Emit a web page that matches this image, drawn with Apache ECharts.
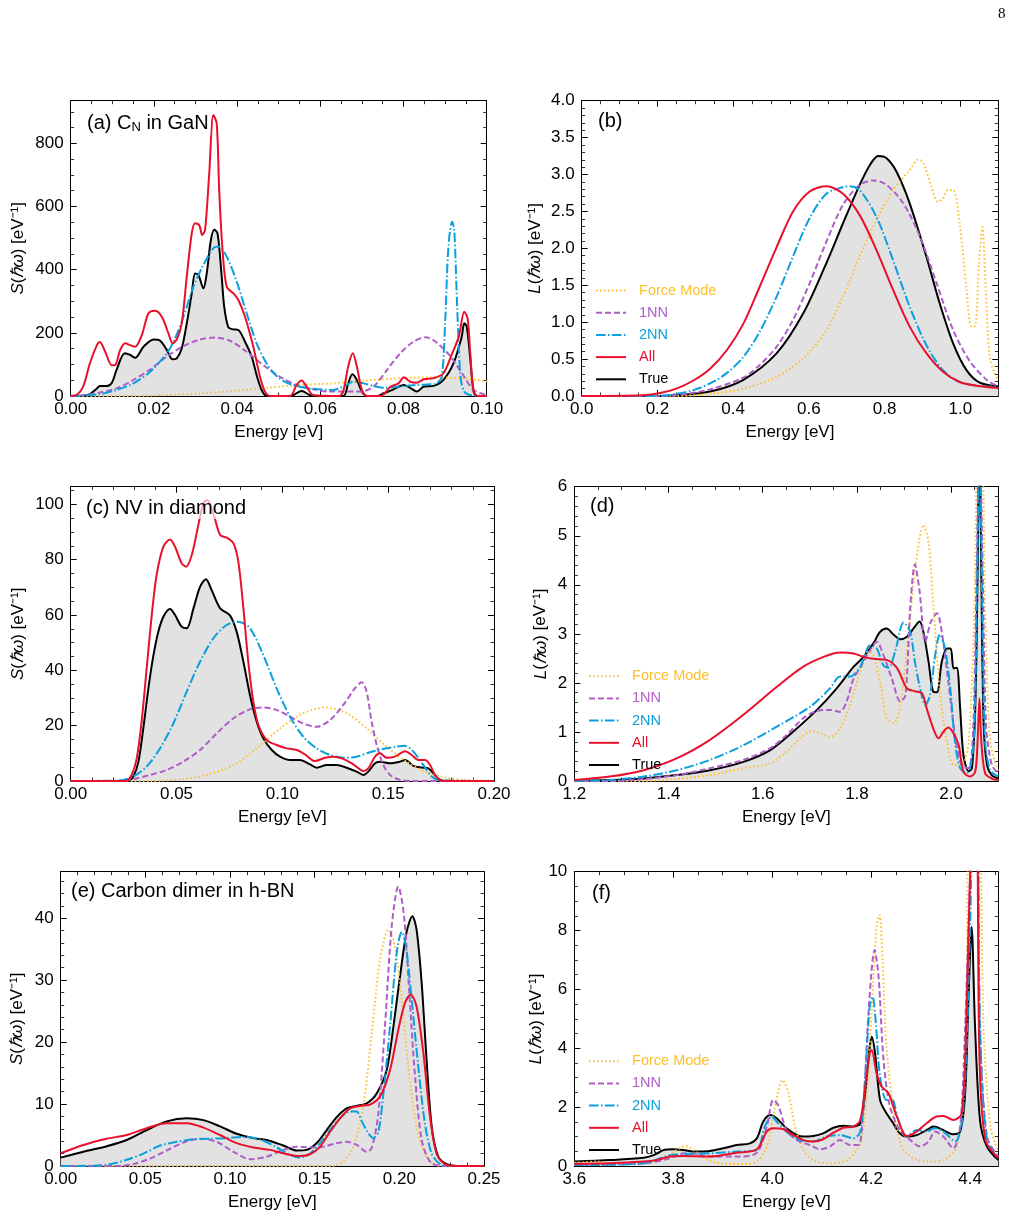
<!DOCTYPE html>
<html>
<head>
<meta charset="utf-8">
<script src="https://cdn.jsdelivr.net/npm/echarts@6/dist/echarts.min.js"></script>
<style>
  html, body { margin: 0; padding: 0; background: #fff; }
  #chart { width: 1016px; height: 1220px; }
</style>
</head>
<body>
<div id="chart"></div>
<script>
// ---- data: [energy, value] ----
// (a) C_N in GaN, S(hw)
const aTrue = [[0,0],[0.003,0],[0.0045,5],[0.0063,24],[0.007,32],[0.0087,32],[0.0099,42],[0.011,82],[0.013,135],[0.0143,130],[0.0155,121],[0.0175,156],[0.0199,179],[0.0215,175],[0.0231,146],[0.0245,116],[0.0255,119],[0.0267,151],[0.0279,230],[0.0291,325],[0.0299,388],[0.0307,383],[0.0319,341],[0.0327,388],[0.0337,494],[0.0345,526],[0.0353,515],[0.0363,378],[0.0369,283],[0.0379,217],[0.0391,211],[0.0403,209],[0.0419,172],[0.0435,125],[0.0447,66],[0.0459,19],[0.0471,0],[0.0525,0],[0.0535,3],[0.0555,16],[0.0575,3],[0.0587,0],[0.0655,0],[0.0667,40],[0.0677,69],[0.0688,51],[0.07,14],[0.0712,0],[0.0736,0],[0.0752,8],[0.0776,21],[0.08,35],[0.0816,26],[0.0832,14],[0.0849,30],[0.0872,32],[0.0896,51],[0.092,103],[0.094,188],[0.0946,230],[0.0952,220],[0.096,125],[0.0968,19],[0.0976,0],[0.1,0]];
const aAll = [[0,0],[0.0014,3],[0.003,30],[0.0046,103],[0.0063,161],[0.007,171],[0.0083,140],[0.0099,97],[0.0107,98],[0.0119,146],[0.0131,167],[0.0143,161],[0.0155,156],[0.0171,193],[0.0187,262],[0.0203,270],[0.0219,251],[0.0235,198],[0.0245,167],[0.0255,179],[0.0267,230],[0.0279,378],[0.0291,515],[0.0299,547],[0.0309,541],[0.0316,510],[0.0323,526],[0.0333,705],[0.0343,890],[0.0351,863],[0.0357,652],[0.0365,462],[0.0375,346],[0.0391,325],[0.0403,304],[0.0419,251],[0.0439,156],[0.0455,61],[0.0467,14],[0.0479,0],[0.0527,0],[0.0543,35],[0.0555,49],[0.0567,30],[0.0583,3],[0.0645,0],[0.0655,14],[0.0667,93],[0.0678,135],[0.0688,93],[0.07,19],[0.0712,0],[0.0745,0],[0.0769,30],[0.0788,40],[0.0801,59],[0.0816,45],[0.0832,42],[0.0849,53],[0.0872,56],[0.0896,72],[0.0917,135],[0.0933,188],[0.0946,267],[0.0954,246],[0.096,146],[0.0968,19],[0.0978,0],[0.1,0]];
const a2NN = [[0,0],[0.003,2],[0.007,6],[0.011,19],[0.0151,40],[0.0191,77],[0.0231,135],[0.0251,183],[0.0271,251],[0.0295,346],[0.0319,415],[0.0343,468],[0.0355,473],[0.0375,441],[0.0399,362],[0.0423,262],[0.0447,167],[0.0471,103],[0.0495,63],[0.0527,38],[0.0559,27],[0.0591,22],[0.0631,19],[0.0663,35],[0.068,45],[0.0704,40],[0.0728,32],[0.0752,26],[0.079,30],[0.0832,35],[0.0864,37],[0.088,40],[0.0892,61],[0.09,230],[0.0908,473],[0.0917,552],[0.0922,526],[0.0929,283],[0.0937,61],[0.0946,14],[0.096,3],[0.1,0]];
const a1NN = [[0,0],[0.003,3],[0.007,11],[0.011,24],[0.0151,51],[0.0191,84],[0.0231,125],[0.0271,158],[0.0311,179],[0.0347,185],[0.0383,175],[0.0423,140],[0.0463,98],[0.0503,61],[0.0543,35],[0.0583,21],[0.0623,14],[0.0663,14],[0.0696,14],[0.0728,30],[0.076,82],[0.0792,135],[0.0824,172],[0.0853,186],[0.088,169],[0.0913,125],[0.0946,61],[0.0968,19],[0.0992,6],[0.1,3]];
const aForce = [[0,0],[0.015,0],[0.023,3],[0.031,8],[0.039,16],[0.047,26],[0.055,35],[0.063,40],[0.071,49],[0.079,56],[0.087,59],[0.095,55],[0.1,47]];

// (b) C_N in GaN, L(hw)
const bTrue = [[0,0],[0.2,0],[0.25,0.01],[0.339,0.06],[0.427,0.22],[0.515,0.58],[0.585,1.12],[0.646,1.8],[0.69,2.34],[0.734,2.86],[0.761,3.13],[0.783,3.25],[0.805,3.22],[0.831,3.04],[0.866,2.61],[0.91,1.89],[0.945,1.26],[0.981,0.71],[1.016,0.35],[1.051,0.18],[1.1,0.13]];
const bAll = [[0,0],[0.163,0.01],[0.207,0.04],[0.25,0.1],[0.295,0.21],[0.339,0.37],[0.383,0.62],[0.427,0.98],[0.47,1.48],[0.515,2.02],[0.558,2.5],[0.602,2.77],[0.646,2.84],[0.69,2.74],[0.734,2.45],[0.778,1.98],[0.822,1.44],[0.866,0.94],[0.91,0.58],[0.954,0.33],[0.998,0.19],[1.042,0.14],[1.1,0.11]];
const b2NN = [[0,0],[0.2,0],[0.25,0.03],[0.295,0.08],[0.339,0.17],[0.383,0.31],[0.427,0.53],[0.47,0.87],[0.515,1.35],[0.558,1.89],[0.602,2.41],[0.646,2.74],[0.69,2.83],[0.708,2.84],[0.734,2.79],[0.778,2.43],[0.822,1.84],[0.866,1.21],[0.91,0.69],[0.954,0.35],[0.998,0.19],[1.042,0.14],[1.1,0.12]];
const b1NN = [[0,0],[0.207,0],[0.25,0.01],[0.339,0.09],[0.427,0.25],[0.47,0.42],[0.515,0.67],[0.558,1.03],[0.602,1.53],[0.646,2.09],[0.69,2.59],[0.734,2.86],[0.77,2.92],[0.805,2.86],[0.849,2.61],[0.893,2.16],[0.937,1.53],[0.981,0.89],[1.025,0.47],[1.069,0.22],[1.1,0.13]];
const bForce = [[0,0],[0.25,0],[0.339,0.03],[0.427,0.1],[0.515,0.26],[0.585,0.51],[0.646,0.89],[0.69,1.35],[0.734,1.89],[0.778,2.38],[0.822,2.79],[0.866,3.06],[0.888,3.2],[0.901,3.17],[0.923,2.84],[0.941,2.63],[0.954,2.68],[0.967,2.79],[0.981,2.79],[0.998,2.34],[1.016,1.44],[1.029,0.94],[1.04,0.96],[1.049,1.8],[1.058,2.29],[1.067,1.44],[1.077,0.53],[1.09,0.31],[1.1,0.22]];

// (c) NV in diamond, S(hw)
const cTrue = [[0,0],[0.025,0],[0.0272,0.1],[0.0296,1.6],[0.032,7],[0.0343,19],[0.0367,33.5],[0.0391,45.5],[0.0414,54],[0.0438,59.4],[0.0469,62.2],[0.0493,60],[0.0524,55.8],[0.0548,55.2],[0.058,62.4],[0.0611,70.2],[0.0639,72.9],[0.0666,69],[0.0706,62.4],[0.0753,59.8],[0.0784,54],[0.0816,43.1],[0.0847,31.1],[0.0879,21.4],[0.091,15.4],[0.095,11.2],[0.0989,8.8],[0.1036,7.6],[0.1083,7.6],[0.1131,6],[0.1162,4.8],[0.121,5.8],[0.1257,5.8],[0.1304,4.8],[0.1351,3.4],[0.1383,2.2],[0.1406,3.4],[0.1438,6.4],[0.1461,7],[0.1509,6.4],[0.1556,7],[0.158,7.6],[0.1619,5.5],[0.1658,4.9],[0.169,4.6],[0.1713,2.8],[0.1745,0.4],[0.1776,0],[0.2,0]];
const cAll = [[0,0],[0.025,0],[0.0265,0.1],[0.0288,2.2],[0.0312,8.2],[0.0335,21.4],[0.0359,40.7],[0.0383,60],[0.0406,74.5],[0.0438,84.7],[0.0469,87.3],[0.0493,84.7],[0.0524,78.7],[0.0545,77.5],[0.0572,81.7],[0.0603,92.5],[0.0627,100.4],[0.0646,101.6],[0.0674,96.7],[0.0706,88.9],[0.0737,88],[0.0769,85.9],[0.0792,79.3],[0.0816,62.4],[0.0839,43.1],[0.0863,28.7],[0.0887,20.2],[0.0926,14.8],[0.0973,13],[0.102,11.8],[0.1068,11.2],[0.1107,9.6],[0.1154,7.2],[0.1202,8.4],[0.1241,8.8],[0.1288,8],[0.1335,6],[0.1383,3.6],[0.1406,4.6],[0.1438,8.8],[0.1461,10],[0.1493,8.4],[0.1532,8.8],[0.158,10.8],[0.1611,9.4],[0.1643,7.6],[0.1674,7.6],[0.1698,5.8],[0.1721,2.2],[0.1753,0.1],[0.2,0]];
const c2NN = [[0,0],[0.0186,0.1],[0.0249,0.4],[0.0296,1.6],[0.0359,5.2],[0.0422,11.8],[0.0485,20.8],[0.0548,32.3],[0.0611,43.1],[0.0674,51.6],[0.0737,56.4],[0.0792,57.6],[0.0847,55.2],[0.091,45.5],[0.0973,33.5],[0.1036,23.3],[0.1099,16],[0.1162,11.8],[0.1225,9.4],[0.1288,8.4],[0.1351,8.8],[0.1414,10.4],[0.1477,11.6],[0.154,12.4],[0.158,12.7],[0.1619,10.6],[0.1666,5.8],[0.1706,1.6],[0.1745,0.2],[0.2,0]];
const c1NN = [[0,0],[0.0217,0],[0.0296,0.7],[0.0375,2.2],[0.0454,4],[0.0532,7],[0.0611,11.2],[0.069,17.2],[0.0769,22.7],[0.0847,25.9],[0.091,26.6],[0.0973,25.7],[0.1036,23.3],[0.1099,20.8],[0.1162,19.6],[0.1225,22],[0.1288,27.5],[0.1343,33.5],[0.1375,35.7],[0.1398,32.3],[0.1422,21.4],[0.1446,13],[0.1477,5.8],[0.1509,2.2],[0.1556,0.4],[0.1619,0],[0.2,0]];
const cForce = [[0,0],[0.0375,0],[0.0532,0.7],[0.0643,2.2],[0.0769,5.8],[0.0879,11.8],[0.0989,19],[0.1099,24.5],[0.1202,26.6],[0.1304,24.5],[0.1398,19],[0.1493,12.4],[0.1587,7],[0.1682,3.1],[0.1776,1.2],[0.1871,0.4],[0.2,0.1]];

// (d) NV in diamond, L(hw)
const dTrue = [[1.2,0.01],[1.276,0.02],[1.347,0.05],[1.417,0.12],[1.488,0.22],[1.559,0.39],[1.616,0.63],[1.665,1.01],[1.715,1.45],[1.757,1.89],[1.793,2.33],[1.814,2.53],[1.835,2.81],[1.849,3.04],[1.863,3.11],[1.878,2.98],[1.892,2.89],[1.906,2.94],[1.92,3.11],[1.933,3.25],[1.941,3.04],[1.952,2.43],[1.962,1.82],[1.97,1.81],[1.98,2.43],[1.991,2.7],[1.999,2.7],[2.005,2.3],[2.012,2.31],[2.019,1.48],[2.026,0.53],[2.037,0.2],[2.044,0.26],[2.051,1.48],[2.056,4.2],[2.06,7.5],[2.064,4.2],[2.069,1.14],[2.076,0.33],[2.086,0.12],[2.1,0.05]];
const dAll = [[1.2,0.02],[1.276,0.09],[1.347,0.22],[1.417,0.46],[1.488,0.84],[1.559,1.35],[1.63,1.92],[1.686,2.33],[1.729,2.53],[1.764,2.62],[1.793,2.6],[1.814,2.53],[1.835,2.49],[1.863,2.47],[1.885,2.3],[1.906,1.89],[1.923,1.83],[1.938,1.79],[1.948,1.48],[1.962,1.07],[1.973,0.87],[1.984,1.01],[1.994,1.09],[2.005,0.97],[2.016,0.73],[2.026,0.19],[2.04,0.09],[2.051,0.19],[2.056,0.8],[2.06,1.68],[2.064,0.8],[2.072,0.16],[2.086,0.05],[2.1,0.02]];
const d2NN = [[1.2,0],[1.276,0.02],[1.347,0.09],[1.417,0.22],[1.488,0.43],[1.559,0.73],[1.63,1.11],[1.7,1.51],[1.743,1.89],[1.764,2.13],[1.785,2.13],[1.807,2.33],[1.828,2.77],[1.842,2.7],[1.856,2.36],[1.867,2.31],[1.881,2.64],[1.899,3.23],[1.913,3.04],[1.923,2.43],[1.934,1.89],[1.945,1.55],[1.955,1.75],[1.966,2.57],[1.976,2.99],[1.987,2.7],[1.998,1.89],[2.008,0.8],[2.019,0.26],[2.033,0.16],[2.047,0.67],[2.054,3.5],[2.06,7],[2.066,3.5],[2.072,0.8],[2.083,0.22],[2.1,0.09]];
const d1NN = [[1.2,0],[1.276,0],[1.347,0.04],[1.417,0.12],[1.488,0.26],[1.559,0.43],[1.616,0.67],[1.651,0.94],[1.686,1.28],[1.715,1.43],[1.743,1.45],[1.764,1.41],[1.778,1.62],[1.793,2.09],[1.81,2.36],[1.828,2.67],[1.842,2.84],[1.856,2.57],[1.874,2.09],[1.892,1.62],[1.903,1.75],[1.913,3.52],[1.923,4.42],[1.933,3.86],[1.945,2.84],[1.957,3.25],[1.97,3.42],[1.98,3.04],[1.994,2.02],[2.008,0.94],[2.022,0.33],[2.037,0.26],[2.047,1.14],[2.054,4.2],[2.06,7],[2.067,4.2],[2.074,1.14],[2.086,0.33],[2.1,0.16]];
const dForce = [[1.2,0],[1.347,0],[1.417,0.04],[1.488,0.12],[1.559,0.26],[1.616,0.36],[1.651,0.6],[1.679,0.87],[1.704,1.02],[1.722,0.97],[1.743,0.9],[1.764,1.07],[1.785,1.55],[1.807,2.23],[1.824,2.64],[1.835,2.57],[1.849,2.02],[1.863,1.28],[1.878,1.18],[1.892,1.55],[1.91,3.04],[1.923,4.27],[1.941,5.22],[1.952,4.88],[1.962,3.59],[1.976,1.82],[1.991,0.8],[2.005,0.33],[2.022,0.33],[2.037,0.8],[2.049,3.52],[2.057,7],[2.065,7],[2.072,3.52],[2.083,0.8],[2.1,0.19]];

// (e) Carbon dimer in h-BN, S(hw)
const eTrue = [[0,1.35],[0.0134,2.3],[0.0272,3.2],[0.039,4.2],[0.0508,5.8],[0.0626,7.2],[0.0744,7.7],[0.0843,7.4],[0.0941,6.4],[0.1039,5.2],[0.1138,4.5],[0.1217,4.2],[0.1315,3.3],[0.1394,2.5],[0.1453,2.6],[0.1512,3.7],[0.1571,5.8],[0.163,7.9],[0.1689,9.3],[0.1748,9.7],[0.1807,10.1],[0.1866,11.7],[0.1925,15.5],[0.1965,22.5],[0.2004,30.6],[0.2043,37.8],[0.2077,40.3],[0.2102,38.1],[0.2132,29.5],[0.2161,17.1],[0.2191,6.4],[0.223,1.5],[0.228,0.3],[0.2358,0],[0.25,0]];
const eAll = [[0,2.05],[0.0134,3.4],[0.0272,4.4],[0.039,5],[0.0508,6.1],[0.0626,6.9],[0.0744,6.9],[0.0843,6.2],[0.0941,5],[0.1039,3.7],[0.1138,3],[0.1236,2.6],[0.1335,1.9],[0.1413,1.6],[0.1472,1.9],[0.1531,3.1],[0.159,5.5],[0.165,7.7],[0.1709,9.3],[0.1768,9.7],[0.1827,9.9],[0.1886,11.2],[0.1945,15.5],[0.1994,22],[0.2033,26.3],[0.2067,27.7],[0.2102,25.7],[0.2142,18.2],[0.2181,8],[0.222,2],[0.227,0.3],[0.2339,0],[0.25,0]];
const e2NN = [[0,0],[0.0193,0.05],[0.0291,0.3],[0.039,1],[0.0488,2],[0.0587,3.3],[0.0685,3.9],[0.0783,4.3],[0.0882,4.4],[0.098,4.5],[0.1079,4.7],[0.1177,4.3],[0.1276,3],[0.1354,1.8],[0.1413,1.35],[0.1472,2],[0.1531,3.7],[0.159,5.8],[0.165,7.7],[0.1709,8.8],[0.1748,8.8],[0.1778,7.2],[0.1817,5.3],[0.1846,4.5],[0.1876,5.5],[0.1906,11.7],[0.1945,22.5],[0.1984,34.3],[0.2014,37.8],[0.2039,35.4],[0.2073,26.8],[0.2112,16],[0.2151,6.9],[0.2191,2],[0.224,0.3],[0.2299,0],[0.25,0]];
const e1NN = [[0,0],[0.0331,0],[0.0429,0.3],[0.0528,1.2],[0.0626,2.5],[0.0724,3.8],[0.0823,4.4],[0.0921,3.9],[0.102,2.3],[0.1118,1.1],[0.1217,1.5],[0.1315,2.6],[0.1394,3.1],[0.1472,3],[0.1551,3.1],[0.163,3.7],[0.1689,3.9],[0.1748,3.4],[0.1807,2.3],[0.1837,2.9],[0.1876,8.5],[0.1915,22.5],[0.1955,38.7],[0.1994,45.1],[0.2028,40.3],[0.2059,27.9],[0.2093,14.4],[0.2132,4.2],[0.2181,0.7],[0.224,0],[0.25,0]];
const eForce = [[0,0],[0.16,0],[0.1669,0.7],[0.1728,3.1],[0.1787,9.6],[0.1837,21.4],[0.1886,33.3],[0.1935,38.1],[0.1974,35.4],[0.2014,26.8],[0.2053,16],[0.2102,6.4],[0.2151,2],[0.22,0.4],[0.226,0],[0.25,0]];

// (f) Carbon dimer in h-BN, L(hw)
const fTrue = [[3.6,0.15],[3.672,0.2],[3.74,0.28],[3.76,0.37],[3.78,0.54],[3.8,0.57],[3.82,0.54],[3.847,0.49],[3.874,0.51],[3.901,0.6],[3.928,0.71],[3.955,0.77],[3.969,0.94],[3.982,1.51],[3.996,1.73],[4.009,1.62],[4.029,1.28],[4.05,1.05],[4.063,1.0],[4.083,1.02],[4.103,1.11],[4.124,1.3],[4.144,1.37],[4.164,1.34],[4.178,1.45],[4.188,2.47],[4.197,4.05],[4.201,4.39],[4.208,3.83],[4.218,2.24],[4.231,1.79],[4.245,1.45],[4.258,1.11],[4.272,1.0],[4.292,1.05],[4.312,1.22],[4.326,1.34],[4.346,1.22],[4.366,1.08],[4.38,1.17],[4.39,2.47],[4.397,5.87],[4.403,8.13],[4.41,4.73],[4.42,1.56],[4.434,0.66],[4.457,0.2]];
const fAll = [[3.6,0.07],[3.672,0.09],[3.74,0.15],[3.766,0.2],[3.793,0.32],[3.82,0.34],[3.874,0.32],[3.928,0.45],[3.969,0.57],[3.989,1.17],[4.002,1.28],[4.023,1.25],[4.043,1.05],[4.063,0.88],[4.083,0.83],[4.103,0.91],[4.124,1.13],[4.144,1.3],[4.164,1.34],[4.178,1.56],[4.188,2.7],[4.197,3.83],[4.201,3.94],[4.211,3.15],[4.221,2.7],[4.235,2.47],[4.252,1.68],[4.272,1.02],[4.292,1.17],[4.312,1.45],[4.332,1.68],[4.346,1.7],[4.366,1.56],[4.383,1.79],[4.392,4.73],[4.399,9.3],[4.406,12],[4.413,12],[4.419,3.6],[4.431,0.88],[4.457,0.26]];
const f2NN = [[3.6,0.03],[3.74,0.09],[3.793,0.37],[3.82,0.41],[3.874,0.43],[3.928,0.49],[3.969,0.54],[3.985,1.34],[3.999,1.68],[4.012,1.45],[4.033,1.11],[4.056,0.88],[4.083,0.83],[4.11,1.0],[4.137,1.05],[4.164,0.94],[4.178,1.17],[4.188,3.04],[4.197,5.41],[4.203,5.75],[4.209,4.96],[4.218,3.04],[4.231,2.24],[4.241,2.3],[4.255,1.56],[4.272,1.0],[4.292,1.22],[4.312,1.17],[4.329,1.28],[4.346,1.17],[4.37,0.83],[4.383,1.45],[4.392,3.6],[4.4,8.13],[4.407,12],[4.414,12],[4.42,4.73],[4.434,0.88],[4.457,0.26]];
const f1NN = [[3.6,0.03],[3.74,0.09],[3.793,0.26],[3.82,0.43],[3.847,0.41],[3.874,0.32],[3.928,0.32],[3.969,0.45],[3.989,1.34],[4.002,2.24],[4.012,2.07],[4.029,1.22],[4.05,0.88],[4.076,0.71],[4.097,0.57],[4.117,0.66],[4.137,0.88],[4.157,0.71],[4.174,0.71],[4.184,1.9],[4.195,5.3],[4.207,7.34],[4.215,6.43],[4.225,3.6],[4.238,2.02],[4.258,1.22],[4.279,0.88],[4.299,0.66],[4.316,0.83],[4.329,1.17],[4.346,1.0],[4.366,0.6],[4.38,1.34],[4.39,4.73],[4.399,9.3],[4.406,12],[4.414,12],[4.42,4.73],[4.434,1.0],[4.457,0.32]];
const fForce = [[3.6,0.11],[3.645,0.15],[3.672,0.09],[3.74,0.09],[3.78,0.26],[3.807,0.54],[3.824,0.68],[3.841,0.54],[3.868,0.23],[3.895,0.09],[3.942,0.07],[3.969,0.15],[3.989,0.66],[4.006,2.02],[4.021,2.92],[4.033,2.47],[4.046,1.34],[4.063,0.54],[4.083,0.2],[4.117,0.09],[4.151,0.2],[4.178,0.77],[4.191,2.47],[4.201,5.3],[4.211,8.13],[4.217,8.53],[4.223,7.0],[4.231,4.05],[4.245,1.9],[4.262,0.66],[4.285,0.26],[4.318,0.15],[4.346,0.2],[4.373,0.66],[4.39,3.6],[4.4,12],[4.417,12],[4.427,4.73],[4.441,1.34],[4.457,0.49]];

const seriesNames = ['Force Mode', '1NN', '2NN', 'All', 'True'];
const panelLabels = ['(a) C{s|N} in GaN', '(b)', '(c) NV in diamond', '(d)', '(e) Carbon dimer in h-BN', '(f)'];

// ---- layout / styles ----
const FONT = '"Liberation Sans", Arial, Helvetica, sans-serif';
const COLORS = { 'Force Mode': '#FDBF2B', '1NN': '#B05DC8', '2NN': '#0A9FDD', 'All': '#E8102A', 'True': '#000000' };
const DASH = { 'Force Mode': [1.5, 2.5], '1NN': [6, 3], '2NN': [9.6, 2.4, 1.5, 2.4], 'All': 'solid', 'True': 'solid' };
const WIDTH = { 'Force Mode': 2, '1NN': 2, '2NN': 2, 'All': 2, 'True': 2 };

const panels = [
  { grid: { left: 70.7, top: 100.7, width: 416, height: 295.3 },
    x: { min: 0, max: 0.1, interval: 0.02, minor: 4, dec: 2, showMax: true },
    y: { min: 0, max: 935, interval: 200, minor: 4, dec: 0, showMax: false },
    yName: 'S', yGap: 44, label: { left: 85, top: 112 }, legend: null,
    data: { 'Force Mode': aForce, '1NN': a1NN, '2NN': a2NN, 'All': aAll, 'True': aTrue } },
  { grid: { left: 581.7, top: 100.7, width: 416.6, height: 295.3 },
    x: { min: 0, max: 1.1, interval: 0.2, minor: 4, dec: 1, showMax: false },
    y: { min: 0, max: 4, interval: 0.5, minor: 5, dec: 1, showMax: true },
    yName: 'L', yGap: 38, label: { left: 596, top: 110 }, legend: { left: 595, top: 283 },
    data: { 'Force Mode': bForce, '1NN': b1NN, '2NN': b2NN, 'All': bAll, 'True': bTrue } },
  { grid: { left: 70.7, top: 486.7, width: 423.3, height: 294.3 },
    x: { min: 0, max: 0.2, interval: 0.05, minor: 5, dec: 2, showMax: true },
    y: { min: 0, max: 106.4, interval: 20, minor: 4, dec: 0, showMax: false },
    yName: 'S', yGap: 44, label: { left: 84, top: 497 }, legend: null,
    data: { 'Force Mode': cForce, '1NN': c1NN, '2NN': c2NN, 'All': cAll, 'True': cTrue } },
  { grid: { left: 574.3, top: 486.7, width: 424, height: 294.3 },
    x: { min: 1.2, max: 2.1, interval: 0.2, minor: 4, dec: 1, showMax: false },
    y: { min: 0, max: 6, interval: 1, minor: 5, dec: 0, showMax: true },
    yName: 'L', yGap: 25, label: { left: 588, top: 495 }, legend: { left: 588, top: 668.7 },
    data: { 'Force Mode': dForce, '1NN': d1NN, '2NN': d2NN, 'All': dAll, 'True': dTrue } },
  { grid: { left: 60.7, top: 871.7, width: 423.3, height: 294.3 },
    x: { min: 0, max: 0.25, interval: 0.05, minor: 5, dec: 2, showMax: true },
    y: { min: 0, max: 47.5, interval: 10, minor: 5, dec: 0, showMax: false },
    yName: 'S', yGap: 35, label: { left: 69, top: 880 }, legend: null,
    data: { 'Force Mode': eForce, '1NN': e1NN, '2NN': e2NN, 'All': eAll, 'True': eTrue } },
  { grid: { left: 574.3, top: 871.7, width: 424, height: 294.3 },
    x: { min: 3.6, max: 4.457, interval: 0.2, minor: 4, dec: 1, showMax: false },
    y: { min: 0, max: 10, interval: 2, minor: 4, dec: 0, showMax: true },
    yName: 'L', yGap: 25, label: { left: 590, top: 882 }, legend: { left: 588, top: 1053.7 },
    data: { 'Force Mode': fForce, '1NN': f1NN, '2NN': f2NN, 'All': fAll, 'True': fTrue } }
];

function axisBase(ax, showLabel, position) {
  return {
    type: 'value', position: position,
    min: ax.min, max: ax.max, interval: ax.interval,
    axisLine: { show: true, onZero: false, lineStyle: { color: '#000', width: 1 } },
    axisTick: { show: true, inside: true, length: 6, lineStyle: { color: '#000', width: 1 } },
    minorTick: { show: true, splitNumber: ax.minor, length: 3.5, lineStyle: { color: '#000', width: 0.8 } },
    splitLine: { show: false },
    axisLabel: {
      show: showLabel, color: '#000', fontSize: 17, fontFamily: FONT,
      showMaxLabel: ax.showMax, showMinLabel: true,
      formatter: function (v) { return (+v).toFixed(ax.dec); }
    }
  };
}

const grids = [], xAxes = [], yAxes = [], series = [], titles = [], legends = [];
panels.forEach(function (p, i) {
  grids.push(Object.assign({ containLabel: false }, p.grid));
  const xb = axisBase(p.x, true, 'bottom');
  xb.gridIndex = i;
  xb.axisLabel.margin = 5;
  xb.name = 'Energy [eV]';
  xb.nameLocation = 'middle';
  xb.nameGap = 28;
  xb.nameTextStyle = { fontSize: 17, color: '#000', fontFamily: FONT };
  const xt = axisBase(p.x, false, 'top');
  xt.gridIndex = i;
  xAxes.push(xb, xt);

  const yl = axisBase(p.y, true, 'left');
  yl.gridIndex = i;
  yl.axisLabel.margin = 7;
  yl.name = '{i|' + p.yName + '}({i|ℏω}) [eV⁻¹]';
  yl.nameLocation = 'middle';
  yl.nameGap = p.yGap;
  yl.nameTextStyle = { fontSize: 17, color: '#000', fontFamily: FONT,
    rich: { i: { fontStyle: 'italic', fontSize: 17, fontFamily: FONT, color: '#000' } } };
  const yr = axisBase(p.y, false, 'right');
  yr.gridIndex = i;
  yAxes.push(yl, yr);

  // True first so its grey fill sits beneath the other curves
  ['True', 'Force Mode', '1NN', '2NN', 'All'].forEach(function (name) {
    const s = {
      type: 'line', name: name, data: p.data[name],
      xAxisIndex: 2 * i, yAxisIndex: 2 * i,
      symbol: 'none', smooth: 0.3, clip: true, silent: true,
      lineStyle: { color: COLORS[name], width: WIDTH[name], type: DASH[name] },
      itemStyle: { color: COLORS[name] }
    };
    if (name === 'True') s.areaStyle = { color: '#e2e2e2', opacity: 1 };
    series.push(s);
  });

  titles.push({
    text: panelLabels[i], left: p.label.left, top: p.label.top, padding: [1, 2],
    backgroundColor: 'rgba(255,255,255,0.65)',
    textStyle: { fontSize: 20, fontWeight: 'normal', color: '#000', fontFamily: FONT,
      rich: { s: { fontSize: 13, color: '#000', fontFamily: FONT, padding: [8, 0, 0, 0] } } }
  });

  if (p.legend) {
    legends.push({
      left: p.legend.left, top: p.legend.top, orient: 'vertical', padding: 0,
      itemWidth: 30, itemHeight: 14, itemGap: 7.2, selectedMode: false,
      itemStyle: { opacity: 0 },
      formatter: function (n) { return '  ' + n; },
      textStyle: { fontSize: 14.5, fontFamily: FONT },
      data: seriesNames.map(function (n) { return { name: n, textStyle: { color: COLORS[n] } }; })
    });
  }
});

const chart = echarts.init(document.getElementById('chart'), null, { renderer: 'canvas' });
chart.setOption({
  animation: false,
  backgroundColor: '#fff',
  title: titles,
  legend: legends,
  grid: grids,
  xAxis: xAxes,
  yAxis: yAxes,
  series: series,
  graphic: [{ type: 'text', left: 998, top: 7, style: { text: '8', font: '15px "Liberation Serif", serif', fill: '#000' } }]
});
</script>
</body>
</html>
